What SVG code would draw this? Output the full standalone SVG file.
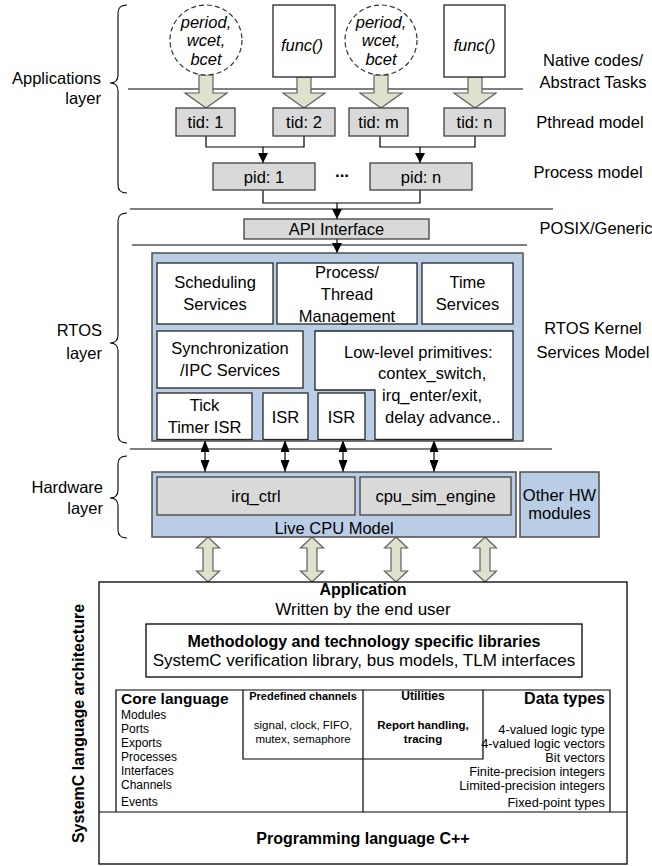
<svg xmlns="http://www.w3.org/2000/svg" width="652" height="866" viewBox="0 0 652 866">
<defs>
<style>
text{font-family:"Liberation Sans",Arial,sans-serif;font-size:16.5px;fill:#000;text-anchor:middle;dominant-baseline:central}
.it{font-style:italic}
.b{font-weight:bold}
.l{text-anchor:start}
.r{text-anchor:end}
.gray{fill:#D9D9D9;stroke:#3f3f3f;stroke-width:1.3}
.blue{fill:#B9CDE5;stroke:#4d4d4d;stroke-width:1.5}
.white{fill:#fff;stroke:#262626;stroke-width:1.3}
.fat{fill:#DCE2CC;stroke:#5f5f5f;stroke-width:1.2}
.ln{stroke:#000;stroke-width:1.2;fill:none}
.sep{stroke:#000;stroke-width:1;fill:none}
.brace{stroke:#000;stroke-width:1.1;fill:none}
.dash{fill:#fff;stroke:#333;stroke-width:1.2;stroke-dasharray:5 3}
.box{fill:#fff;stroke:#000;stroke-width:1.3}
.ci{font-size:12px}
.pc{font-size:11.5px}
.di{font-size:12.8px}
</style>
<marker id="ah" viewBox="0 0 10 10" refX="10" refY="5" markerWidth="10" markerHeight="10" markerUnits="userSpaceOnUse" orient="auto-start-reverse"><path d="M0,0 L10,5 L0,10 z" fill="#000"/></marker>
<marker id="ah2" viewBox="0 0 12 9" refX="12" refY="4.5" markerWidth="12" markerHeight="9" markerUnits="userSpaceOnUse" orient="auto-start-reverse"><path d="M0,0 L12,4.5 L0,9 z" fill="#000"/></marker>
</defs>
<rect width="652" height="866" fill="#fff"/>

<!-- layer labels and braces -->
<g id="labels">
<path class="brace" d="M127,5 Q118,5 118,13 L118,75 Q118,83 110,83 Q118,83 118,91 L118,185 Q118,193 127,193"/>
<text class="r" x="101" y="78">Applications</text>
<text class="r" x="101" y="98">layer</text>
<path class="brace" d="M127,213 Q118,213 118,221 L118,335 Q118,343 110,343 Q118,343 118,351 L118,435 Q118,443 127,443"/>
<text class="r" x="102" y="330">RTOS</text>
<text class="r" x="102" y="353">layer</text>
<path class="brace" d="M127,456 Q118,456 118,464 L118,490 Q118,498 110,498 Q118,498 118,506 L118,530 Q118,538 127,538"/>
<text class="r" x="103" y="487">Hardware</text>
<text class="r" x="103" y="508">layer</text>
<text x="593" y="60">Native codes/</text>
<text x="593" y="82">Abstract Tasks</text>
<text x="590" y="122">Pthread model</text>
<text x="588" y="172">Process model</text>
<text x="596" y="228">POSIX/Generic</text>
<text x="593" y="328">RTOS Kernel</text>
<text x="593" y="352">Services Model</text>
</g>

<!-- connectors -->
<g id="connectors">
<line class="sep" x1="128" y1="89" x2="523" y2="89"/>
<line class="sep" x1="130" y1="209" x2="553" y2="209"/>
<line class="sep" x1="132" y1="245" x2="527" y2="245"/>
<line class="sep" x1="130" y1="449" x2="552" y2="449"/>
<path class="fat" d="M199,75 H213 V93 H227 L206,108 L185,93 H199 Z"/>
<path class="fat" d="M297,77 H311 V93 H325 L304,108 L283,93 H297 Z"/>
<path class="fat" d="M374,75 H388 V93 H402 L381,108 L360,93 H374 Z"/>
<path class="fat" d="M468,77 H482 V93 H496 L475,108 L454,93 H468 Z"/>
<path class="ln" d="M206,136 V147 H304 V136"/>
<line class="ln" x1="263" y1="147" x2="263" y2="163" marker-end="url(#ah)"/>
<path class="ln" d="M380,136 V147 H475 V136"/>
<line class="ln" x1="420" y1="147" x2="420" y2="163" marker-end="url(#ah)"/>
<path class="ln" d="M263,190 V203 H420 V190"/>
<line class="ln" x1="337" y1="203" x2="337" y2="219" marker-end="url(#ah)"/>
<line class="ln" x1="337" y1="239" x2="337" y2="253" marker-end="url(#ah)"/>
<line class="ln" x1="205" y1="440" x2="205" y2="472" marker-start="url(#ah2)" marker-end="url(#ah2)"/>
<line class="ln" x1="285" y1="440" x2="285" y2="472" marker-start="url(#ah2)" marker-end="url(#ah2)"/>
<line class="ln" x1="343" y1="440" x2="343" y2="472" marker-start="url(#ah2)" marker-end="url(#ah2)"/>
<line class="ln" x1="434" y1="440" x2="434" y2="472" marker-start="url(#ah2)" marker-end="url(#ah2)"/>
<path class="fat" d="M208,537 L219.5,548 H213 V571 H219.5 L208,582 L196.5,571 H203 V548 H196.5 Z"/>
<path class="fat" d="M312,537 L323.5,548 H317 V571 H323.5 L312,582 L300.5,571 H307 V548 H300.5 Z"/>
<path class="fat" d="M396,537 L407.5,548 H401 V571 H407.5 L396,582 L384.5,571 H391 V548 H384.5 Z"/>
<path class="fat" d="M485,537 L496.5,548 H490 V571 H496.5 L485,582 L473.5,571 H480 V548 H473.5 Z"/>
</g>

<!-- application layer -->
<g id="task1"><ellipse class="dash" cx="206" cy="40" rx="36" ry="35"/>
<text class="it" x="206" y="22">period,</text><text class="it" x="206" y="40">wcet,</text><text class="it" x="206" y="59">bcet</text></g>
<g id="func1"><rect class="white" x="273" y="5" width="62" height="72"/><text class="it" x="302" y="45">func()</text></g>
<g id="task2"><ellipse class="dash" cx="381" cy="40" rx="36" ry="35"/>
<text class="it" x="381" y="22">period,</text><text class="it" x="381" y="40">wcet,</text><text class="it" x="381" y="59">bcet</text></g>
<g id="func2"><rect class="white" x="444" y="5" width="61" height="72"/><text class="it" x="474.5" y="45">func()</text></g>
<g id="tid1"><rect class="gray" x="176" y="108" width="59" height="28"/><text x="205.5" y="122">tid: 1</text></g>
<g id="tid2"><rect class="gray" x="273" y="108" width="62" height="28"/><text x="304" y="122">tid: 2</text></g>
<g id="tidm"><rect class="gray" x="349" y="108" width="59" height="28"/><text x="378.5" y="122">tid: m</text></g>
<g id="tidn"><rect class="gray" x="444" y="108" width="61" height="28"/><text x="474.5" y="122">tid: n</text></g>
<g id="pid1"><rect class="gray" x="213" y="163" width="102" height="27"/><text x="264" y="177">pid: 1</text></g>
<g id="dots"><text class="b" x="342" y="171" style="font-size:17px">...</text></g>
<g id="pidn"><rect class="gray" x="370" y="163" width="102" height="27"/><text x="421" y="177">pid: n</text></g>
<g id="api"><rect class="gray" x="244" y="219" width="185" height="20"/><text x="336.5" y="229">API Interface</text></g>

<!-- RTOS kernel -->
<g id="kernel"><rect class="blue" x="152" y="253" width="371" height="188"/></g>
<g id="sched"><rect class="white" x="157" y="263" width="116" height="61"/><text x="215" y="282">Scheduling</text><text x="215" y="304">Services</text></g>
<g id="proc"><rect class="white" x="277" y="263" width="140" height="61"/><text x="347" y="272">Process/</text><text x="347" y="294">Thread</text><text x="347" y="316">Management</text></g>
<g id="time"><rect class="white" x="422" y="263" width="91" height="61"/><text x="467.5" y="282">Time</text><text x="467.5" y="304">Services</text></g>
<g id="sync"><rect class="white" x="157" y="331" width="146" height="57"/><text x="230" y="348">Synchronization</text><text x="230" y="370">/IPC Services</text></g>
<g id="lowlevel"><polygon class="white" points="315,331 513,331 513,439.5 375,439.5 375,390 315,390"/>
<text class="l" x="344" y="352">Low-level primitives:</text>
<text class="l" x="378" y="373">contex_switch,</text>
<text class="l" x="382" y="395">irq_enter/exit,</text>
<text class="l" x="385" y="417">delay advance..</text></g>
<g id="tick"><rect class="white" x="157" y="393" width="95" height="46.5"/><text x="204.5" y="405">Tick</text><text x="204.5" y="427">Timer ISR</text></g>
<g id="isr1"><rect class="white" x="263" y="393" width="45" height="46.5"/><text x="285.5" y="417">ISR</text></g>
<g id="isr2"><rect class="white" x="318" y="393" width="47" height="46.5"/><text x="341.5" y="417">ISR</text></g>

<!-- hardware -->
<g id="livecpu"><rect class="blue" x="152" y="472" width="364" height="65"/><text x="334" y="528">Live CPU Model</text></g>
<g id="irqctrl"><rect class="gray" x="157" y="477" width="198" height="38"/><text x="256" y="496">irq_ctrl</text></g>
<g id="cpusim"><rect class="gray" x="360" y="477" width="151" height="38"/><text x="435.5" y="496">cpu_sim_engine</text></g>
<g id="otherhw"><rect class="blue" x="520" y="472" width="79" height="65"/><text x="559.5" y="495">Other HW</text><text x="559.5" y="513">modules</text></g>

<!-- SystemC architecture -->
<g id="systemc">
<rect class="box" x="99" y="582" width="528" height="282"/>
<text class="b" x="363" y="589" style="font-size:16px">Application</text>
<text x="363" y="609" style="font-size:17px">Written by the end user</text>
<text class="b" transform="translate(78,723.5) rotate(-90)" x="0" y="0" style="font-size:16px">SystemC language architecture</text>
<line class="ln" x1="99" y1="812" x2="627" y2="812"/>
<text class="b" x="363" y="838" style="font-size:16px">Programming language C++</text>
</g>
<g id="methodology"><rect class="box" x="146" y="624" width="436" height="53"/>
<text class="b" x="364" y="641" style="font-size:16px">Methodology and technology specific libraries</text>
<text x="364" y="660" style="font-size:17px">SystemC verification library, bus models, TLM interfaces</text></g>
<g id="core">
<path class="ln" d="M116,812 V690 H610 V812"/>
<line class="ln" x1="363" y1="690" x2="363" y2="812"/>
<text class="b l" x="121" y="698" style="font-size:15.5px">Core language</text>
<text class="l ci" x="121" y="715">Modules</text>
<text class="l ci" x="121" y="729">Ports</text>
<text class="l ci" x="121" y="743">Exports</text>
<text class="l ci" x="121" y="757">Processes</text>
<text class="l ci" x="121" y="771">Interfaces</text>
<text class="l ci" x="121" y="785">Channels</text>
<text class="l ci" x="121" y="802">Events</text>
</g>
<g id="channels"><path class="ln" d="M243,690 V759 H363"/>
<text class="b" x="303" y="696" style="font-size:11px">Predefined channels</text>
<text class="pc" x="303" y="725">signal, clock, FIFO,</text>
<text class="pc" x="303" y="738.5">mutex, semaphore</text></g>
<g id="utilities"><path class="ln" d="M363,759 H483 V690"/>
<text class="b" x="423" y="696" style="font-size:12px">Utilities</text>
<text class="b" x="423" y="725" style="font-size:11.5px">Report handling,</text>
<text class="b" x="423" y="738.5" style="font-size:11.5px">tracing</text></g>
<g id="datatypes">
<text class="b r" x="605" y="698" style="font-size:16px">Data types</text>
<text class="r di" x="605" y="729">4-valued logic type</text>
<text class="r di" x="605" y="743">4-valued logic vectors</text>
<text class="r di" x="605" y="757">Bit vectors</text>
<text class="r di" x="605" y="771">Finite-precision integers</text>
<text class="r di" x="605" y="785">Limited-precision integers</text>
<text class="r di" x="605" y="802">Fixed-point types</text>
</g>
</svg>
